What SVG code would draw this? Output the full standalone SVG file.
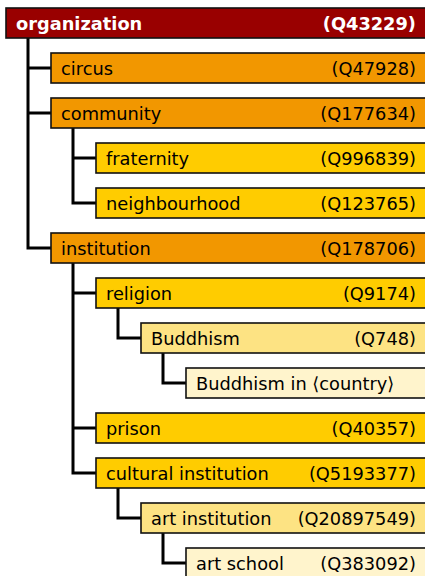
<svg xmlns="http://www.w3.org/2000/svg" width="425" height="576" viewBox="0 0 425 576">
<style>
rect{stroke:#111;stroke-width:1.6}
text{font-family:"DejaVu Sans",sans-serif;font-size:17.8px;fill:#000}
.q{text-anchor:end}
.r text{fill:#fff;font-weight:bold}
.l0{fill:#990000}.l1{fill:#f29700}.l2{fill:#ffcc00}.l3{fill:#fde383}.l4{fill:#fff4cc}
#connectors path{fill:none;stroke:#000;stroke-width:3;stroke-linejoin:miter}
</style>
<rect width="425" height="576" fill="#fff" style="stroke:none"/>
<g id="connectors">
<path d="M28,38 V248 H51 M28,68 H51 M28,113 H51"/>
<path d="M73,128 V203 H96 M73,158 H96"/>
<path d="M73,263 V473 H96 M73,293 H96 M73,428 H96"/>
<path d="M118,308 V338 H141"/>
<path d="M163,353 V383 H186"/>
<path d="M118,488 V518 H141"/>
<path d="M163,533 V563 H186"/>
</g>
<g id="organization" class="r"><rect class="l0" x="6" y="8" width="430" height="30"/><text x="16" y="29.5">organization</text><text class="q" x="416" y="29.5">(Q43229)</text></g>
<g id="circus"><rect class="l1" x="51" y="53" width="390" height="30"/><text x="61" y="74.5">circus</text><text class="q" x="416" y="74.5">(Q47928)</text></g>
<g id="community"><rect class="l1" x="51" y="98" width="390" height="30"/><text x="61" y="119.5">community</text><text class="q" x="416" y="119.5">(Q177634)</text></g>
<g id="fraternity"><rect class="l2" x="96" y="143" width="340" height="30"/><text x="106" y="164.5">fraternity</text><text class="q" x="416" y="164.5">(Q996839)</text></g>
<g id="neighbourhood"><rect class="l2" x="96" y="188" width="340" height="30"/><text x="106" y="209.5">neighbourhood</text><text class="q" x="416" y="209.5">(Q123765)</text></g>
<g id="institution"><rect class="l1" x="51" y="233" width="390" height="30"/><text x="61" y="254.5">institution</text><text class="q" x="416" y="254.5">(Q178706)</text></g>
<g id="religion"><rect class="l2" x="96" y="278" width="340" height="30"/><text x="106" y="299.5">religion</text><text class="q" x="416" y="299.5">(Q9174)</text></g>
<g id="buddhism"><rect class="l3" x="141" y="323" width="300" height="30"/><text x="151" y="344.5">Buddhism</text><text class="q" x="416" y="344.5">(Q748)</text></g>
<g id="buddhism-in-country"><rect class="l4" x="186" y="368" width="250" height="30"/><text x="196" y="389.5">Buddhism in ⟨country⟩</text></g>
<g id="prison"><rect class="l2" x="96" y="413" width="340" height="30"/><text x="106" y="434.5">prison</text><text class="q" x="416" y="434.5">(Q40357)</text></g>
<g id="cultural-institution"><rect class="l2" x="96" y="458" width="340" height="30"/><text x="106" y="479.5">cultural institution</text><text class="q" x="416" y="479.5">(Q5193377)</text></g>
<g id="art-institution"><rect class="l3" x="141" y="503" width="300" height="30"/><text x="151" y="524.5">art institution</text><text class="q" x="416" y="524.5">(Q20897549)</text></g>
<g id="art-school"><rect class="l4" x="186" y="548" width="250" height="30"/><text x="196" y="569.5">art school</text><text class="q" x="416" y="569.5">(Q383092)</text></g>
</svg>
